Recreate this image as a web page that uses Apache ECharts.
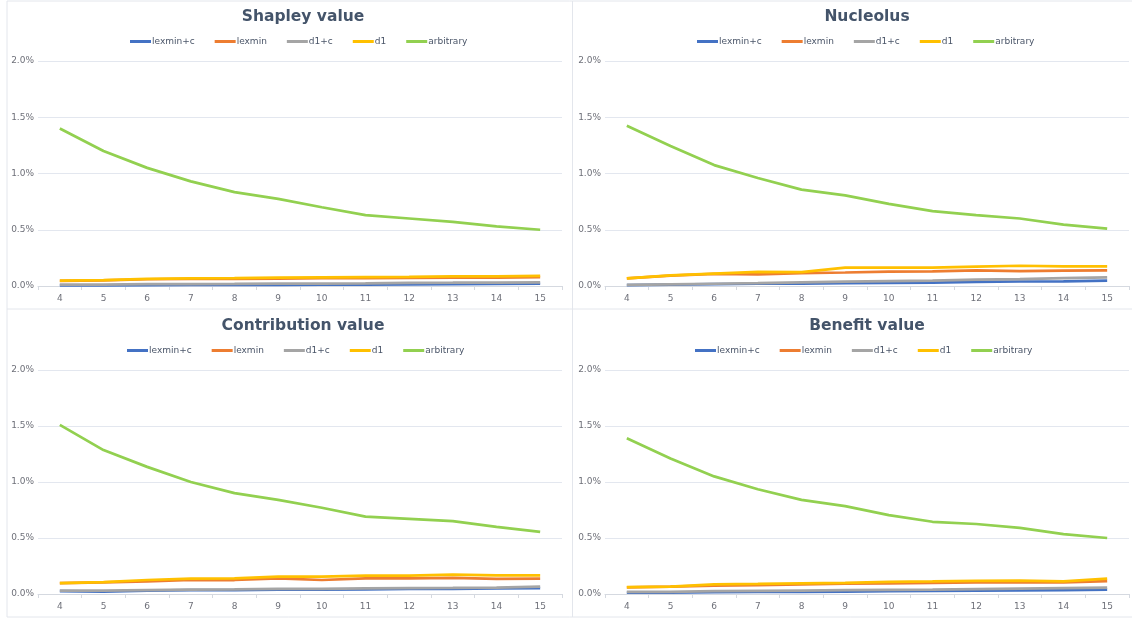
<!DOCTYPE html>
<html>
<head>
<meta charset="utf-8">
<script src="https://cdn.jsdelivr.net/npm/echarts@6/dist/echarts.min.js"></script>
<style>
html,body{margin:0;padding:0;background:#fff;}
#chart{width:1132px;height:619px;}
</style>
</head>
<body>
<div id="chart"></div>
<script>
const categories = ['4','5','6','7','8','9','10','11','12','13','14','15'];
const seriesNames = ['lexmin+c','lexmin','d1+c','d1','arbitrary'];
const panelTitles = ['Shapley value','Nucleolus','Contribution value','Benefit value'];
const yTicks = [0, 0.5, 1.0, 1.5, 2.0];

// values in percent
const shapleyLexminC = [0.005,0.006,0.008,0.009,0.010,0.011,0.012,0.012,0.015,0.016,0.018,0.020];
const shapleyLexmin  = [0.045,0.050,0.060,0.063,0.063,0.066,0.069,0.070,0.072,0.074,0.075,0.078];
const shapleyD1C     = [0.012,0.013,0.016,0.017,0.018,0.021,0.022,0.023,0.028,0.029,0.031,0.033];
const shapleyD1      = [0.047,0.052,0.064,0.068,0.069,0.074,0.077,0.079,0.081,0.085,0.085,0.089];
const shapleyArb     = [1.40,1.20,1.05,0.93,0.835,0.775,0.70,0.63,0.60,0.57,0.53,0.50];

const nucleolusLexminC = [0.008,0.012,0.016,0.020,0.022,0.025,0.028,0.031,0.036,0.040,0.042,0.047];
const nucleolusLexmin  = [0.068,0.092,0.107,0.104,0.115,0.120,0.127,0.130,0.139,0.133,0.136,0.139];
const nucleolusD1C     = [0.010,0.015,0.020,0.025,0.032,0.038,0.043,0.048,0.056,0.062,0.070,0.077];
const nucleolusD1      = [0.068,0.095,0.110,0.125,0.124,0.163,0.163,0.163,0.172,0.180,0.175,0.175];
const nucleolusArb     = [1.425,1.245,1.075,0.96,0.856,0.805,0.73,0.665,0.63,0.60,0.546,0.51];

const contribLexminC = [0.025,0.022,0.030,0.035,0.035,0.038,0.038,0.042,0.045,0.045,0.050,0.053];
const contribLexmin  = [0.098,0.104,0.113,0.125,0.125,0.140,0.125,0.140,0.140,0.143,0.134,0.137];
const contribD1C     = [0.030,0.030,0.035,0.040,0.042,0.045,0.045,0.050,0.053,0.055,0.058,0.065];
const contribD1      = [0.098,0.107,0.125,0.137,0.140,0.155,0.155,0.164,0.164,0.173,0.167,0.167];
const contribArb     = [1.51,1.285,1.135,1.00,0.90,0.84,0.77,0.69,0.67,0.65,0.60,0.555];

const benefitLexminC = [0.012,0.013,0.016,0.018,0.020,0.022,0.025,0.027,0.030,0.032,0.035,0.040];
const benefitLexmin  = [0.060,0.065,0.075,0.080,0.085,0.092,0.095,0.100,0.103,0.105,0.103,0.116];
const benefitD1C     = [0.018,0.020,0.025,0.028,0.031,0.034,0.037,0.040,0.044,0.048,0.052,0.056];
const benefitD1      = [0.062,0.065,0.086,0.090,0.095,0.100,0.108,0.112,0.117,0.120,0.113,0.137];
const benefitArb     = [1.39,1.21,1.05,0.935,0.84,0.785,0.705,0.645,0.625,0.59,0.535,0.50];

const panelData = [
  [shapleyLexminC, shapleyLexmin, shapleyD1C, shapleyD1, shapleyArb],
  [nucleolusLexminC, nucleolusLexmin, nucleolusD1C, nucleolusD1, nucleolusArb],
  [contribLexminC, contribLexmin, contribD1C, contribD1, contribArb],
  [benefitLexminC, benefitLexmin, benefitD1C, benefitD1, benefitArb]
];

const colors = ['#4472c4','#ed7d31','#a5a5a5','#ffc000','#92d050'];
const font = 'DejaVu Sans';

const grids = [
  {left:38, top:61, width:524, height:225},
  {left:605, top:61, width:524, height:225},
  {left:38, top:370, width:524, height:224},
  {left:605, top:370, width:524, height:224}
];
const legendPos = [
  {left:130, top:37},
  {left:697, top:37},
  {left:127, top:346},
  {left:695, top:346}
];
const titlePos = [
  {x:303, y:17},{x:867, y:17},{x:303, y:326},{x:867, y:326}
];

const xAxes = [], yAxes = [], series = [], legends = [], graphics = [];
grids.forEach((g, i) => {
  xAxes.push({
    type:'category', gridIndex:i, data:categories, boundaryGap:true,
    axisLine:{show:true, lineStyle:{color:'#d5d9e0', width:1}},
    axisTick:{show:true, alignWithLabel:false, length:4, lineStyle:{color:'#d5d9e0'}},
    axisLabel:{color:'#6e7079', fontFamily:font, fontSize:9, margin:8}
  });
  yAxes.push({
    type:'value', gridIndex:i, min:yTicks[0], max:yTicks[yTicks.length-1], interval:0.5,
    axisLine:{show:false}, axisTick:{show:false},
    splitLine:{show:true, lineStyle:{color:'#e3e7ef', width:1}},
    axisLabel:{color:'#6e7079', fontFamily:font, fontSize:9, margin:4,
      formatter:v => v.toFixed(1) + '%'}
  });
  seriesNames.forEach((name, k) => {
    series.push({
      name:name, type:'line', xAxisIndex:i, yAxisIndex:i,
      data:panelData[i][k], symbol:'none', smooth:false,
      lineStyle:{color:colors[k], width:2.75}, itemStyle:{color:colors[k]},
      z: 2 + k
    });
  });
  legends.push({
    data:seriesNames, left:legendPos[i].left, top:legendPos[i].top, padding:0,
    itemGap:20, itemWidth:21, itemHeight:3, icon:'rect',
    textStyle:{color:'#4a5568', fontFamily:font, fontSize:9, padding:[0,0,0,-4]}
  });
  graphics.push({
    type:'text', x:titlePos[i].x, y:titlePos[i].y,
    style:{text:panelTitles[i], fill:'#44546a', font:'bold 15.5px "DejaVu Sans"', align:'center', verticalAlign:'middle'}
  });
});

const borderColor = '#e3e6ec';
[[7,1,7,617],[572.5,1,572.5,617],[7,1,1132,1],[7,309,1132,309],[7,617,1132,617]].forEach(s => {
  graphics.push({type:'line', shape:{x1:s[0], y1:s[1], x2:s[2], y2:s[3]}, style:{stroke:borderColor, lineWidth:1}, silent:true});
});

const chart = echarts.init(document.getElementById('chart'), null, {renderer:'canvas'});
chart.setOption({
  animation:false,
  color:colors,
  grid:grids,
  xAxis:xAxes,
  yAxis:yAxes,
  legend:legends,
  series:series,
  graphic:graphics
});
</script>
</body>
</html>
